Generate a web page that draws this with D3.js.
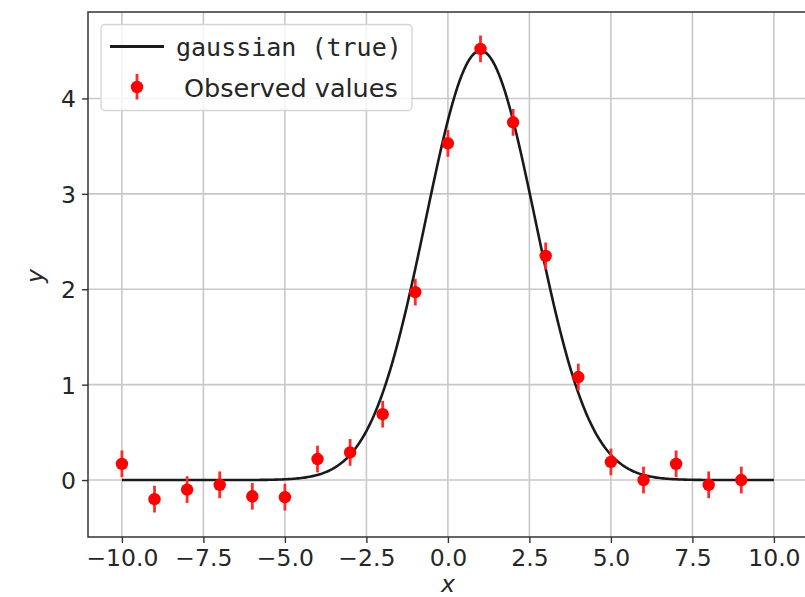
<!DOCTYPE html>
<html>
<head>
<meta charset="utf-8">
<script src="https://cdn.jsdelivr.net/npm/d3@7"></script>
<style>
  html, body { margin: 0; padding: 0; background: #ffffff; }
  svg { display: block; }
  text { fill: #262626; }
</style>
</head>
<body>
<svg id="chart" width="805" height="597"></svg>
<script>
// Observed samples with their uncertainties
const xObs = [-10, -9, -8, -7, -6, -5, -4, -3, -2, -1, 0, 1, 2, 3, 4, 5, 6, 7, 8, 9];
const yObs = [0.17, -0.20, -0.10, -0.05, -0.17, -0.18, 0.22, 0.29, 0.69, 1.97,
              3.53, 4.52, 3.75, 2.35, 1.08, 0.19, 0.00, 0.17, -0.05, 0.00];
const yErr = [0.14, 0.14, 0.14, 0.14, 0.14, 0.14, 0.14, 0.14, 0.14, 0.14,
              0.14, 0.14, 0.14, 0.14, 0.14, 0.14, 0.14, 0.14, 0.14, 0.14];

// Parameters of the true gaussian model
const gaussAmp = 4.5;
const gaussMean = 1.0;
const gaussSigma = 1.68;
const curveRange = [-10, 10];

// Axis ticks
const xTicks = [-10, -7.5, -5, -2.5, 0, 2.5, 5, 7.5, 10];
const yTicks = [0, 1, 2, 3, 4];

const seriesLabels = ["gaussian (true)", "Observed values"];

const SANS = "'DejaVu Sans', sans-serif";
const MONO = "'DejaVu Sans Mono', monospace";

const svg = d3.select("#chart");
const plot = { left: 88, top: 12, right: 807.8, bottom: 537 };

const x = d3.scaleLinear().domain([-11.04, 11.04]).range([plot.left, plot.right]);
const y = d3.scaleLinear().domain([-0.597, 4.906]).range([plot.bottom, plot.top]);

svg.append("defs").append("clipPath").attr("id", "plotclip")
  .append("rect")
  .attr("x", plot.left).attr("y", plot.top)
  .attr("width", plot.right - plot.left).attr("height", plot.bottom - plot.top);

// Grid
const grid = svg.append("g").attr("class", "grid");
grid.selectAll("line.gx").data(xTicks).join("line")
  .attr("x1", d => x(d)).attr("x2", d => x(d))
  .attr("y1", plot.top).attr("y2", plot.bottom)
  .attr("stroke", "#c8c8c8").attr("stroke-width", 1.6);
grid.selectAll("line.gy").data(yTicks).join("line")
  .attr("x1", plot.left).attr("x2", plot.right)
  .attr("y1", d => y(d)).attr("y2", d => y(d))
  .attr("stroke", "#c8c8c8").attr("stroke-width", 1.6);

const fmtX = v => d3.format(".1f")(v).replace("-", "\u2212");
const fmtY = v => d3.format("d")(v).replace("-", "\u2212");

// Axes
const xAxis = d3.axisBottom(x).tickValues(xTicks).tickFormat(fmtX).tickSize(6).tickPadding(6);
const yAxis = d3.axisLeft(y).tickValues(yTicks).tickFormat(fmtY).tickSize(6).tickPadding(6);

const gx = svg.append("g").attr("transform", `translate(0,${plot.bottom})`).call(xAxis);
const gy = svg.append("g").attr("transform", `translate(${plot.left},0)`).call(yAxis);
[gx, gy].forEach(g => {
  g.select(".domain").remove();
  g.selectAll(".tick line").attr("stroke", "#333").attr("stroke-width", 1.4);
  g.selectAll(".tick text")
    .style("font-family", SANS)
    .style("font-size", "23.5px")
    .style("fill", "#262626");
});
gx.selectAll(".tick text").attr("dy", "0.71em");
gy.selectAll(".tick text").attr("dy", "0.36em");

// Model curve
const curveX = d3.range(curveRange[0], curveRange[1] + 1e-9, 0.05);
const gauss = v => gaussAmp * Math.exp(-((v - gaussMean) ** 2) / (2 * gaussSigma * gaussSigma));
const body = svg.append("g").attr("clip-path", "url(#plotclip)");
body.append("path")
  .datum(curveX)
  .attr("fill", "none")
  .attr("stroke", "#1a1a1a")
  .attr("stroke-width", 2.6)
  .attr("d", d3.line().x(d => x(d)).y(d => y(gauss(d))));

// Observations with error bars
const obs = xObs.map((v, i) => ({ x: v, y: yObs[i], e: yErr[i] }));
body.selectAll("line.err").data(obs).join("line")
  .attr("class", "err")
  .attr("x1", d => x(d.x)).attr("x2", d => x(d.x))
  .attr("y1", d => y(d.y - d.e)).attr("y2", d => y(d.y + d.e))
  .attr("stroke", "#ff2a2a").attr("stroke-width", 2.8);
body.selectAll("circle.pt").data(obs).join("circle")
  .attr("class", "pt")
  .attr("cx", d => x(d.x)).attr("cy", d => y(d.y))
  .attr("r", 6.2).attr("fill", "#ff0000");

// Spines
svg.append("rect")
  .attr("x", plot.left).attr("y", plot.top)
  .attr("width", plot.right - plot.left).attr("height", plot.bottom - plot.top)
  .attr("fill", "none").attr("stroke", "#333").attr("stroke-width", 1.5);

// Axis labels
svg.append("text")
  .attr("x", x(0)).attr("y", 592)
  .attr("text-anchor", "middle")
  .style("font-family", SANS).style("font-size", "23.5px").style("font-style", "italic")
  .text("x");
svg.append("text")
  .attr("transform", "translate(43,276) rotate(-90)")
  .attr("text-anchor", "middle")
  .style("font-family", SANS).style("font-size", "23.5px").style("font-style", "italic")
  .text("y");

// Legend
const lg = svg.append("g");
lg.append("rect")
  .attr("x", 101).attr("y", 24.5).attr("width", 311).attr("height", 86)
  .attr("rx", 4).attr("ry", 4)
  .attr("fill", "#ffffff").attr("fill-opacity", 0.8)
  .attr("stroke", "#d4d4d4").attr("stroke-width", 1.3);
lg.append("line")
  .attr("x1", 110).attr("x2", 164).attr("y1", 46.5).attr("y2", 46.5)
  .attr("stroke", "#1a1a1a").attr("stroke-width", 2.8);
lg.append("text")
  .attr("x", 176).attr("y", 55.5)
  .style("font-family", MONO).style("font-size", "25px")
  .text(seriesLabels[0]);
lg.append("line")
  .attr("x1", 137).attr("x2", 137).attr("y1", 74).attr("y2", 99.5)
  .attr("stroke", "#ff2a2a").attr("stroke-width", 2.8);
lg.append("circle")
  .attr("cx", 137).attr("cy", 87).attr("r", 6.2).attr("fill", "#ff0000");
lg.append("text")
  .attr("x", 184).attr("y", 97)
  .style("font-family", SANS).style("font-size", "25.5px")
  .text(seriesLabels[1]);
</script>
</body>
</html>
